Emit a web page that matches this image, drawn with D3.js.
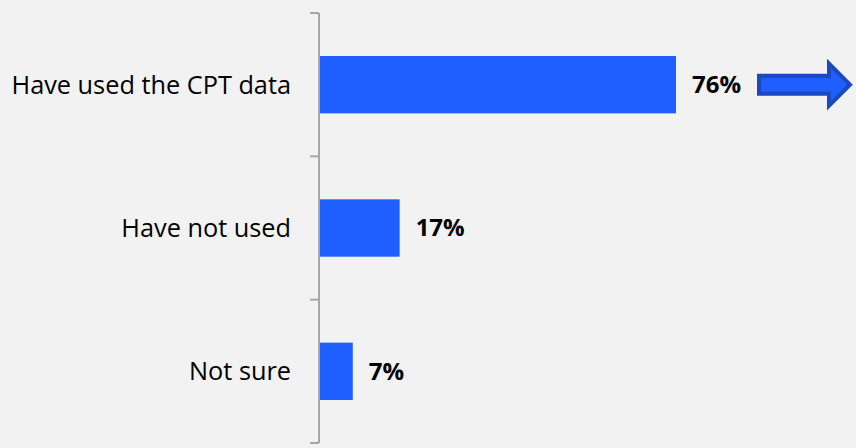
<!DOCTYPE html>
<html><head><meta charset="utf-8">
<script src="https://cdn.jsdelivr.net/npm/d3@7"></script>
<style>html,body{margin:0;padding:0;background:#f2f2f2;}svg{display:block;}</style>
</head><body>
<svg id="c" width="856" height="448"></svg>
<script>
const categories = ["Have used the CPT data", "Have not used", "Not sure"];
const values = [76, 17, 7];
const valueLabels = ["76%", "17%", "7%"];

const svg = d3.select("#c");
svg.append("rect").attr("width",856).attr("height",448).attr("fill","#f2f2f2");

const x0 = 320;
const x = d3.scaleLinear().domain([0, 76]).range([x0, 676]);
const y = d3.scaleBand().domain(categories).range([13, 443]).paddingInner(0.6).paddingOuter(0.3);

const axisColor = "#a6a6a6";
const step = y.step();
const tickYs = d3.range(categories.length + 1).map(i => 13 + i * step);
svg.append("line").attr("x1",x0-1).attr("x2",x0-1).attr("y1",13).attr("y2",443)
  .attr("stroke",axisColor).attr("stroke-width",2);
svg.selectAll(".tick").data(tickYs).enter().append("line")
  .attr("x1",x0-10).attr("x2",x0-1).attr("y1",d=>d).attr("y2",d=>d)
  .attr("stroke",axisColor).attr("stroke-width",2);

svg.selectAll(".bar").data(values).enter().append("rect")
  .attr("x", x0).attr("y",(d,i)=>y(categories[i]))
  .attr("width", d=>x(d)-x0).attr("height", y.bandwidth())
  .attr("fill","#1f5fff");

svg.selectAll(".cat").data(categories).enter().append("text")
  .attr("x", 291).attr("y", d=>y(d)+y.bandwidth()/2)
  .attr("dy","0.35em").attr("text-anchor","end")
  .attr("font-family","Open Sans, sans-serif").attr("font-size",25.3)
  .attr("fill","#000").text(d=>d);

svg.selectAll(".val").data(values).enter().append("text")
  .attr("x", d=>x(d)+16).attr("y",(d,i)=>y(categories[i])+y.bandwidth()/2)
  .attr("dy","0.35em")
  .attr("font-family","Open Sans, sans-serif").attr("font-size",24).attr("font-weight","bold")
  .attr("fill","#000").text((d,i)=>valueLabels[i]);

const ay = y(categories[0]) + y.bandwidth()/2;
const path = d3.path();
path.moveTo(759, ay-9);
path.lineTo(829, ay-9);
path.lineTo(829, ay-21);
path.lineTo(850, ay);
path.lineTo(829, ay+21);
path.lineTo(829, ay+9);
path.lineTo(759, ay+9);
path.closePath();
svg.append("path").attr("d", path.toString()).attr("fill","#1f5fff")
  .attr("stroke","#1a48bf").attr("stroke-width",4).attr("stroke-linejoin","miter");
</script>
</body></html>
